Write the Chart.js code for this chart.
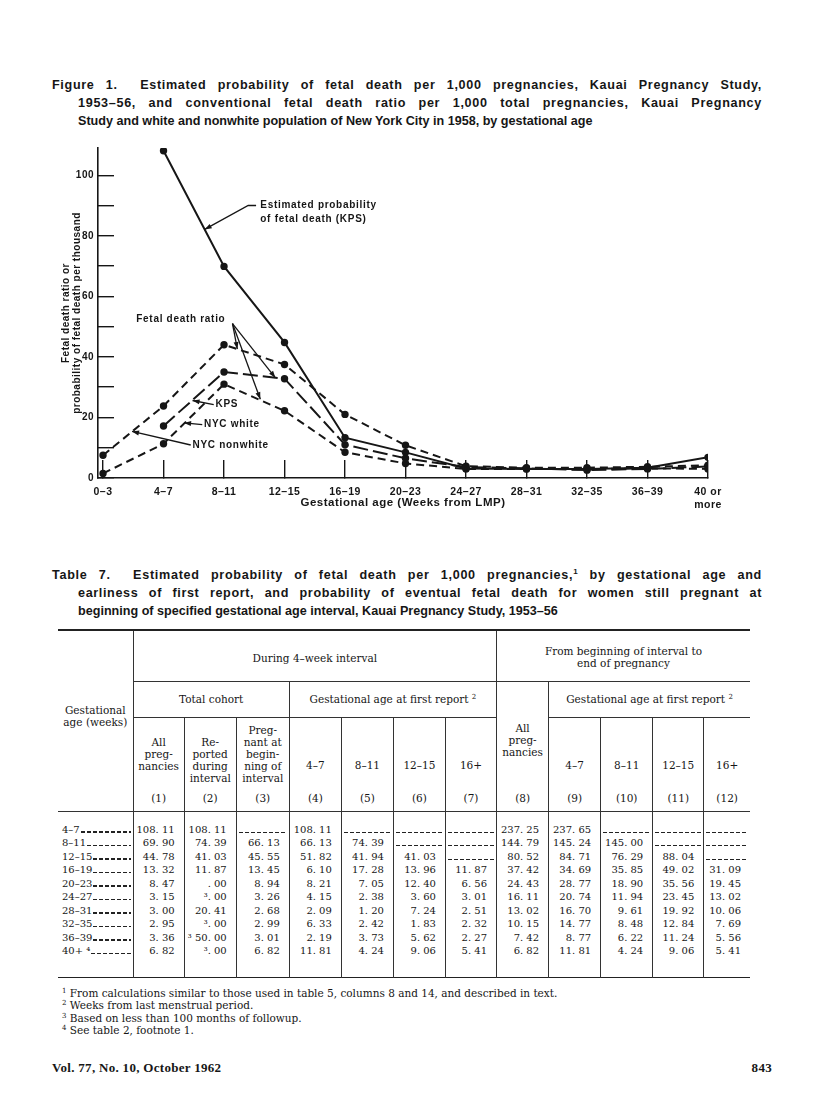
<!DOCTYPE html>
<html>
<head>
<meta charset="utf-8">
<script src="https://cdn.jsdelivr.net/npm/chart.js@4"></script>
<style>
  body { margin: 0; background: #fff; color: #161616; }
  #page { position: relative; width: 816px; height: 1114px; overflow: hidden; }
  sup { line-height: 0; }
  .cap { position: absolute; left: 52px; font: bold 12.6px "Liberation Sans", sans-serif; line-height: 18px; }
  .cap div { white-space: nowrap; }
  .cap .fit { display: inline-block; white-space: nowrap; }
  .cap .ind { padding-left: 26px; }
  #fig { position: absolute; left: 55px; top: 138px; width: 700px; height: 385px; }
  #tbl { position: absolute; left: 58px; top: 629px; width: 692px; border-collapse: collapse; table-layout: fixed;
         font: 10px "DejaVu Serif", serif; color: #161616; border-top: 2.5px solid #222; border-bottom: 1.6px solid #222; }
  #tbl td { padding: 0; border: 0; }
  #tbl thead td { text-align: center; vertical-align: middle; line-height: 12.2px; font-size: 10.5px; }
  #tbl thead tr.cols td { vertical-align: top; padding-top: 18px; }
  #tbl thead tr.cols td.num { padding-top: 41px; }
  #tbl .v { border-left: 1px solid #333; }
  #tbl .hb { border-bottom: 1px solid #333; }
  #tbl .rb td { border-bottom: 1.3px solid #333; }
  #tbl tbody td { text-align: right; padding-right: 9px; height: 13.5px; line-height: 13.5px; white-space: nowrap; }
  #tbl tbody td.stub { text-align: left; padding: 0 2px 0 4px; }
  .stubcell { display: flex; align-items: baseline; }
  .lead, .nd { flex: 1; height: 1.3px; background: repeating-linear-gradient(90deg, #222 0 4px, transparent 4px 6px); }
  .lead { margin-left: 1px; }
  .nd { display: block; margin: 0 -7px 0 2px; transform: translateY(3px); }
  .notes { position: absolute; left: 62px; top: 987px; font: 10.5px "DejaVu Serif", serif; line-height: 12.3px; }
  .foot { position: absolute; top: 1060px; font: bold 13px "Liberation Serif", serif; letter-spacing: 0.3px; }
</style>
</head>
<body>
<div id="page">
  <div class="cap" style="top:76px">
    <div><span class="fit" data-w="710">Figure 1.&nbsp; Estimated probability of fetal death per 1,000 pregnancies, Kauai Pregnancy Study,</span></div>
    <div class="ind"><span class="fit" data-w="684">1953–56, and conventional fetal death ratio per 1,000 total pregnancies, Kauai Pregnancy</span></div>
    <div class="ind">Study and white and nonwhite population of New York City in 1958, by gestational age</div>
  </div>

  <div id="fig"><canvas id="chart"></canvas></div>

  <div class="cap" style="top:566px">
    <div><span class="fit" data-w="710">Table 7.&nbsp; Estimated probability of fetal death per 1,000 pregnancies,<sup style="font-size:8px">1</sup> by gestational age and</span></div>
    <div class="ind"><span class="fit" data-w="684">earliness of first report, and probability of eventual fetal death for women still pregnant at</span></div>
    <div class="ind">beginning of specified gestational age interval, Kauai Pregnancy Study, 1953–56</div>
  </div>

  <table id="tbl">
    <colgroup>
      <col style="width:75px"><col style="width:51px"><col style="width:52px"><col style="width:53px">
      <col style="width:52px"><col style="width:52px"><col style="width:52px"><col style="width:51px">
      <col style="width:52px"><col style="width:52px"><col style="width:52px"><col style="width:51px"><col style="width:46px">
    </colgroup>
    <thead>
      <tr style="height:51px">
        <td rowspan="4" style="border-bottom:1.3px solid #333;padding-bottom:10px">Gestational<br>age (weeks)</td>
        <td colspan="7" class="v hb" style="padding-top:4px">During 4–week interval</td>
        <td colspan="5" class="v hb" style="padding-top:2px">From beginning of interval to<br>end of pregnancy</td>
      </tr>
      <tr style="height:36px">
        <td colspan="3" class="v hb">Total cohort</td>
        <td colspan="4" class="v hb">Gestational age at first report <sup style="font-size:7px">2</sup></td>
        <td rowspan="2" class="v" style="vertical-align:top;padding-top:40px">All<br>preg-<br>nancies</td>
        <td colspan="4" class="v hb">Gestational age at first report <sup style="font-size:7px">2</sup></td>
      </tr>
      <tr style="height:68px" class="cols">
        <td class="v">All<br>preg-<br>nancies</td>
        <td class="v">Re-<br>ported<br>during<br>interval</td>
        <td class="v" style="padding-top:6px">Preg-<br>nant at<br>begin-<br>ning of<br>interval</td>
        <td class="v num">4–7</td><td class="v num">8–11</td><td class="v num">12–15</td><td class="v num">16+</td>
        <td class="v num">4–7</td><td class="v num">8–11</td><td class="v num">12–15</td><td class="v num">16+</td>
      </tr>
      <tr style="height:26px" class="rb" id="colnums"></tr>
    </thead>
    <tbody id="tbody"></tbody>
  </table>

  <div class="notes">
    <div><sup style="font-size:7px">1</sup> From calculations similar to those used in table 5, columns 8 and 14, and described in text.</div>
    <div><sup style="font-size:7px">2</sup> Weeks from last menstrual period.</div>
    <div><sup style="font-size:7px">3</sup> Based on less than 100 months of followup.</div>
    <div><sup style="font-size:7px">4</sup> See table 2, footnote 1.</div>
  </div>

  <div class="foot" style="left:52px">Vol. 77, No. 10, October 1962</div>
  <div class="foot" style="left:700px;width:72px;text-align:right">843</div>
</div>

<script>
// Chart data
const ageGroups = ['0–3', '4–7', '8–11', '12–15', '16–19', '20–23', '24–27', '28–31', '32–35', '36–39', '40 or more'];
const kpsProbability = [null, 108.11, 69.90, 44.78, 13.32, 8.47, 3.15, 3.00, 2.95, 3.36, 6.82];
const kpsRatio = [null, 17.2, 35.0, 32.8, 11.0, 6.5, 3.6, 3.2, 2.6, 3.0, 3.8];
const nycWhite = [1.5, 11.3, 31.0, 22.2, 8.5, 4.8, 3.0, 3.0, 2.9, 3.2, 3.0];
const nycNonwhite = [7.5, 23.8, 44.0, 37.5, 21.0, 10.8, 3.9, 3.4, 3.4, 3.7, 4.2];
const yTickValues = [0, 10, 20, 30, 40, 50, 60, 70, 80, 90, 100];

// Table 7 data
const stubRows = ['4–7', '8–11', '12–15', '16–19', '20–23', '24–27', '28–31', '32–35', '36–39', '40+ ⁴'];
const tableCols = [
    ['108. 11', '69. 90', '44. 78', '13. 32', '8. 47', '3. 15', '3. 00', '2. 95', '3. 36', '6. 82'],
    ['108. 11', '74. 39', '41. 03', '11. 87', '. 00', '³. 00', '20. 41', '³. 00', '³ 50. 00', '³. 00'],
    ['', '66. 13', '45. 55', '13. 45', '8. 94', '3. 26', '2. 68', '2. 99', '3. 01', '6. 82'],
    ['108. 11', '66. 13', '51. 82', '6. 10', '8. 21', '4. 15', '2. 09', '6. 33', '2. 19', '11. 81'],
    ['', '74. 39', '41. 94', '17. 28', '7. 05', '2. 38', '1. 20', '2. 42', '3. 73', '4. 24'],
    ['', '', '41. 03', '13. 96', '12. 40', '3. 60', '7. 24', '1. 83', '5. 62', '9. 06'],
    ['', '', '', '11. 87', '6. 56', '3. 01', '2. 51', '2. 32', '2. 27', '5. 41'],
    ['237. 25', '144. 79', '80. 52', '37. 42', '24. 43', '16. 11', '13. 02', '10. 15', '7. 42', '6. 82'],
    ['237. 65', '145. 24', '84. 71', '34. 69', '28. 77', '20. 74', '16. 70', '14. 77', '8. 77', '11. 81'],
    ['', '145. 00', '76. 29', '35. 85', '18. 90', '11. 94', '9. 61', '8. 48', '6. 22', '4. 24'],
    ['', '', '88. 04', '49. 02', '35. 56', '23. 45', '19. 92', '12. 84', '11. 24', '9. 06'],
    ['', '', '', '31. 09', '19. 45', '13. 02', '10. 06', '7. 69', '5. 56', '5. 41']
];

//Stretching the justified caption lines: part letter spacing, part word spacing
document.querySelectorAll('.fit').forEach(el => {
    const w = el.getBoundingClientRect().width;
    const text = el.textContent;
    const spaces = (text.match(/[ \u00a0]/g) || []).length;
    const extra = +el.dataset.w - w;
    el.style.letterSpacing = (0.4 * extra / text.length) + 'px';
    el.style.wordSpacing = (0.6 * extra / spaces) + 'px';
});

//Building the table
let colnums = document.getElementById('colnums');
for (let c = 1; c <= 12; c++) {
    colnums.innerHTML += '<td class="v">(' + c + ')</td>';
}
const spacer = h => '<tr><td class="stub" style="height:' + h + 'px"></td>' +
    ('<td class="v" style="height:' + h + 'px"></td>').repeat(12) + '</tr>';
let rowsHtml = spacer(11);
stubRows.forEach((label, r) => {
    let row = '<tr><td class="stub"><div class="stubcell"><span>' + label + '</span><span class="lead"></span></div></td>';
    tableCols.forEach(col => {
        row += col[r] === '' ? '<td class="v"><span class="nd"></span></td>' : '<td class="v">' + col[r] + '</td>';
    });
    rowsHtml += row + '</tr>';
});
rowsHtml += spacer(19);
document.getElementById('tbody').innerHTML = rowsHtml;

// Annotation labels and arrows, positioned in data units
const notes = [
    { text: ['Estimated probability', 'of fetal death (KPS)'], at: [2.6, 90],
      arrows: [[[2.53, 90], [2.40, 90], [1.68, 82.1]]] },
    { text: ['Fetal death ratio'], at: [0.55, 52.4],
      arrows: [[[2.14, 51], [2.22, 42.6]], [[2.14, 51], [2.85, 33.1]], [[2.14, 51], [2.6, 26.0]]] },
    { text: ['KPS'], at: [1.86, 24.2], arrows: [[[1.83, 24.2], [1.48, 25.6]]] },
    { text: ['NYC white'], at: [1.67, 17.6], arrows: [[[1.64, 17.6], [1.34, 18.2]]] },
    { text: ['NYC nonwhite'], at: [1.48, 10.9], arrows: [[[1.45, 10.9], [0.48, 15.4]]] }
];

const ink = '#161616';
const chartFont = { family: 'Liberation Sans', size: 10.5, weight: 'bold' };
const toPoints = arr => arr.map((v, i) => ({ x: i, y: v })).filter(p => p.y !== null);

const spacing = {
    id: 'spacing',
    beforeDraw(chart) { chart.ctx.letterSpacing = '0.5px'; }
};

const annotate = {
    id: 'annotate',
    afterDatasetsDraw(chart) {
        const ctx = chart.ctx;
        const xs = chart.scales.x, ys = chart.scales.y;
        const px = p => [xs.getPixelForValue(p[0]), ys.getPixelForValue(p[1])];
        ctx.save();
        ctx.letterSpacing = '0.7px';
        ctx.fillStyle = ink;
        ctx.strokeStyle = ink;
        ctx.lineWidth = 1.3;
        ctx.font = 'bold 10px "Liberation Sans"';
        ctx.textBaseline = 'middle';
        ctx.textAlign = 'left';
        notes.forEach(n => {
            const [tx, ty] = px(n.at);
            n.text.forEach((line, i) => ctx.fillText(line, tx, ty + i * 14));
            n.arrows.forEach(path => {
                const pts = path.map(px);
                ctx.beginPath();
                pts.forEach((p, i) => i ? ctx.lineTo(p[0], p[1]) : ctx.moveTo(p[0], p[1]));
                ctx.stroke();
                const [a, b] = pts.slice(-2);
                const ang = Math.atan2(b[1] - a[1], b[0] - a[0]);
                ctx.beginPath();
                ctx.moveTo(b[0], b[1]);
                ctx.lineTo(b[0] - 7 * Math.cos(ang) + 2.5 * Math.sin(ang), b[1] - 7 * Math.sin(ang) - 2.5 * Math.cos(ang));
                ctx.lineTo(b[0] - 7 * Math.cos(ang) - 2.5 * Math.sin(ang), b[1] - 7 * Math.sin(ang) + 2.5 * Math.cos(ang));
                ctx.closePath();
                ctx.fill();
            });
        });
        ctx.restore();
    }
};

const line = (data, dash) => ({
    data: toPoints(data),
    borderColor: ink,
    backgroundColor: ink,
    borderWidth: 2,
    borderDash: dash,
    pointRadius: 2.7,
    pointHoverRadius: 0,
    tension: 0,
    fill: false
});

new Chart(document.getElementById('chart'), {
    type: 'line',
    data: {
        datasets: [
            line(kpsProbability, []),
            line(kpsRatio, [15, 5]),
            line(nycWhite, [8, 5]),
            line(nycNonwhite, [8, 5])
        ]
    },
    options: {
        responsive: true,
        maintainAspectRatio: false,
        animation: false,
        events: [],
        layout: { padding: { top: 10, right: 47, left: 0, bottom: 0 } },
        plugins: { legend: { display: false }, tooltip: { enabled: false } },
        scales: {
            x: {
                type: 'linear',
                min: -0.083,
                max: 10,
                border: { color: ink, width: 1.6 },
                grid: { drawOnChartArea: false, drawTicks: true, tickLength: -18, color: ink, lineWidth: 1.4 },
                afterBuildTicks: s => { s.ticks = ageGroups.map((g, i) => ({ value: i })); },
                afterFit: s => { s.height = 45; s.paddingLeft = 0; s.paddingRight = 0; },
                ticks: {
                    padding: 26,
                    color: ink,
                    font: chartFont,
                    maxRotation: 0,
                    autoSkip: false,
                    callback: v => {
                        const g = ageGroups[v];
                        return g === '40 or more' ? ['40 or', 'more'] : g;
                    }
                },
                title: {
                    display: true,
                    text: 'Gestational age (Weeks from LMP)',
                    color: ink,
                    font: { family: 'Liberation Sans', size: 11.5, weight: 'bold' },
                    padding: { top: 0, bottom: 13 }
                }
            },
            y: {
                min: 0,
                max: 109,
                border: { color: ink, width: 1.6 },
                grid: { drawOnChartArea: false, drawTicks: true, tickLength: -16, color: ink, lineWidth: 1.4 },
                afterBuildTicks: s => { s.ticks = yTickValues.map(v => ({ value: v })); },
                afterFit: s => { s.width = 43; s.paddingTop = 0; s.paddingBottom = 0; },
                ticks: {
                    padding: 20,
                    color: ink,
                    font: { family: 'Liberation Sans', size: 10, weight: 'bold' },
                    callback: v => (v % 20 === 0 ? String(v) : '')
                },
                title: {
                    display: true,
                    text: ['Fetal death ratio or', 'probability of fetal death per thousand'],
                    color: ink,
                    font: { family: 'Liberation Sans', size: 10, weight: 'bold', lineHeight: 1.1 },
                    padding: { top: 6, bottom: 0 }
                }
            }
        }
    },
    plugins: [spacing, annotate]
});
</script>
</body>
</html>
